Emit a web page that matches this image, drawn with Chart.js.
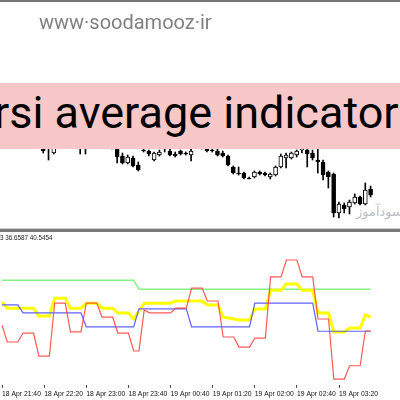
<!DOCTYPE html>
<html>
<head>
<meta charset="utf-8">
<script src="https://cdn.jsdelivr.net/npm/chart.js@4.4.1/dist/chart.umd.min.js"></script>
<style>
  html, body { margin: 0; padding: 0; background: #fff; }
  #page { position: relative; width: 400px; height: 400px; overflow: hidden; background: #fff; }
  #page canvas { position: absolute; left: 0; }
  .topline { position: absolute; left: 0; top: 0; width: 400px; height: 2px; background: #777; }
  .site { position: absolute; left: 39px; top: 12px; font: 20px Roboto, sans-serif; line-height: 20px; color: #808080; white-space: nowrap; }
  .banner { position: absolute; left: 0; top: 83px; width: 400px; height: 66px; background: #f8c8c9; }
  .banner span { position: absolute; left: -6px; top: 7px; font: 45px Roboto, sans-serif; line-height: 45px; color: #000; white-space: nowrap; }
  .fa { position: absolute; left: 356px; top: 204px; font: 13px "DejaVu Sans", sans-serif; color: #b8bdc6; white-space: nowrap; }
  .sep1 { position: absolute; left: 0; top: 228px; width: 400px; height: 1px; background: #d0d0d0; }
  .sep2 { position: absolute; left: 0; top: 229px; width: 400px; height: 3px; background: #7a7a7a; }
  .ind { position: absolute; left: 0; top: 234px; font: 6.3px "Liberation Sans", sans-serif; line-height: 8px; color: #222; white-space: nowrap; }
</style>
</head>
<body>
<div id="page">
  <canvas id="priceChart" width="400" height="229" style="top:0"></canvas>
  <canvas id="rsiChart" width="400" height="167" style="top:233px"></canvas>
  <div class="topline"></div>
  <div class="site">www·soodamooz·ir</div>
  <div class="banner"><span>rsi average indicator</span></div>
  <div class="fa">سودآموز</div>
  <div class="sep1"></div>
  <div class="sep2"></div>
  <div class="ind">3 36.6587 40.5454</div>
</div>
<script>
// M5 bars, 18 Apr 21:40 is bar 0
const tickIdx = [0, 8, 16, 24, 32, 40, 48, 56, 64];
const tickLabels = ['18 Apr 21:40', '18 Apr 22:20', '18 Apr 23:00', '18 Apr 23:40', '19 Apr 00:40',
  '19 Apr 01:20', '19 Apr 02:00', '19 Apr 02:40', '19 Apr 03:20'];

// candles (most of the early ones sit behind the banner)
const opens = [1.1870, 1.1874, 1.1868, 1.1872, 1.1866, 1.1864, 1.1869, 1.1862, 1.1854, 1.1855,
  1.1847, 1.1857, 1.1862, 1.1867, 1.1863, 1.1860, 1.1856, 1.1859, 1.1862, 1.1860,
  1.1864, 1.1861, 1.1854, 1.1844, 1.1837, 1.1842, 1.1835, 1.1850, 1.1849, 1.1840,
  1.1845, 1.1854, 1.1849, 1.1846, 1.1849, 1.1847, 1.1845, 1.1853, 1.1858, 1.1852,
  1.1850, 1.1849, 1.1847, 1.1844, 1.1833, 1.1827, 1.1827, 1.1822, 1.1823, 1.1828,
  1.1827, 1.1823, 1.1825, 1.1833, 1.1842, 1.1842, 1.1845, 1.1850, 1.1850, 1.1847,
  1.1840, 1.1838, 1.1828, 1.1826, 1.1787, 1.1795, 1.1793, 1.1797, 1.1803, 1.1796, 1.1811];
const highs = [1.1878, 1.1876, 1.1874, 1.1875, 1.1870, 1.1872, 1.1871, 1.1867, 1.1858, 1.1860,
  1.1862, 1.1866, 1.1872, 1.1870, 1.1867, 1.1864, 1.1863, 1.1866, 1.1867, 1.1868,
  1.1869, 1.1865, 1.1858, 1.1847, 1.1845, 1.1844, 1.1838, 1.1851, 1.1850, 1.1848,
  1.1850, 1.1860, 1.1851, 1.1848, 1.1850, 1.1848, 1.1852, 1.1862, 1.1862, 1.1854,
  1.1851, 1.1851, 1.1849, 1.1845, 1.1834, 1.1833, 1.1828, 1.1823, 1.1829, 1.1829,
  1.1828, 1.1827, 1.1834, 1.1846, 1.1847, 1.1848, 1.1850, 1.1852, 1.1853, 1.1850,
  1.1852, 1.1840, 1.1829, 1.1827, 1.1798, 1.1797, 1.1800, 1.1806, 1.1804, 1.1817, 1.1814];
const lows = [1.1866, 1.1864, 1.1862, 1.1860, 1.1858, 1.1860, 1.1856, 1.1854, 1.1847, 1.1840,
  1.1846, 1.1854, 1.1858, 1.1859, 1.1855, 1.1846, 1.1846, 1.1854, 1.1854, 1.1855,
  1.1856, 1.1851, 1.1837, 1.1836, 1.1836, 1.1833, 1.1829, 1.1848, 1.1844, 1.1839,
  1.1844, 1.1848, 1.1844, 1.1843, 1.1845, 1.1845, 1.1839, 1.1852, 1.1851, 1.1848,
  1.1848, 1.1844, 1.1843, 1.1834, 1.1826, 1.1825, 1.1821, 1.1821, 1.1822, 1.1825,
  1.1824, 1.1821, 1.1824, 1.1832, 1.1832, 1.1841, 1.1843, 1.1847, 1.1833, 1.1840,
  1.1827, 1.1820, 1.1812, 1.1783, 1.1782, 1.1787, 1.1786, 1.1796, 1.1795, 1.1795, 1.1803];
const closes = [1.1875, 1.1868, 1.1872, 1.1866, 1.1864, 1.1869, 1.1862, 1.1860, 1.1849, 1.1853,
  1.1857, 1.1862, 1.1867, 1.1863, 1.1860, 1.1856, 1.1859, 1.1862, 1.1860, 1.1864,
  1.1861, 1.1854, 1.1843, 1.1837, 1.1843, 1.1834, 1.1830, 1.1849, 1.1846, 1.1847,
  1.1848, 1.1857, 1.1845, 1.1844, 1.1846, 1.1846, 1.1849, 1.1858, 1.1855, 1.1849,
  1.1849, 1.1845, 1.1844, 1.1835, 1.1827, 1.1826, 1.1822, 1.1821, 1.1828, 1.1826,
  1.1825, 1.1826, 1.1833, 1.1844, 1.1845, 1.1847, 1.1849, 1.1851, 1.1846, 1.1842,
  1.1838, 1.1825, 1.1823, 1.1787, 1.1796, 1.1791, 1.1798, 1.1803, 1.1796, 1.1810, 1.1805];

// indicator buffers
const redLine = [38.3, 33.6, 33.6, 33.6, 36.1, 36.1, 36.1, 29.7, 29.7, 29.7,
  44.4, 44.4, 44.4, 36.4, 36.4, 36.4, 44.4, 44.4, 44.4, 40.5,
  40.5, 40.5, 36.1, 36.1, 36.1, 31.1, 31.1, 42.5, 41.7, 41.7,
  41.7, 41.7, 41.7, 43.0, 43.0, 43.0, 48.6, 48.6, 48.6, 45.0,
  45.0, 45.0, 35.0, 35.0, 35.0, 32.2, 32.2, 32.2, 34.7, 34.7,
  34.7, 51.7, 51.7, 51.7, 56.4, 56.4, 56.4, 51.7, 51.7, 51.7,
  40.0, 40.0, 40.0, 23.3, 23.3, 23.3, 27.0, 27.0, 27.0, 36.66, 36.66];
const yellowLine = [44.7, 43.0, 43.0, 43.0, 43.0, 43.0, 43.0, 40.8, 40.8, 40.8,
  45.8, 45.8, 45.8, 43.0, 43.0, 43.0, 44.4, 44.4, 44.4, 43.0,
  43.0, 43.0, 41.7, 41.7, 41.7, 40.0, 42.2, 44.4, 44.4, 44.4,
  44.4, 44.4, 44.4, 45.0, 45.0, 45.0, 45.0, 45.0, 45.0, 43.9,
  43.9, 43.9, 40.5, 40.3, 40.0, 39.7, 39.7, 39.7, 42.8, 42.8,
  42.8, 48.0, 48.0, 48.0, 49.7, 49.7, 49.7, 48.0, 48.0, 48.0,
  41.7, 41.7, 41.7, 36.4, 36.4, 36.4, 37.5, 37.5, 37.5, 41.1, 40.55];
const blueLine = [43.9, 43.9, 43.9, 43.9, 41.7, 41.7, 41.7, 41.7, 41.7, 41.7,
  41.7, 41.7, 41.7, 41.7, 41.7, 41.7, 37.8, 37.8, 37.8, 37.8,
  37.8, 37.8, 37.8, 37.8, 37.8, 37.8, 42.8, 42.8, 42.8, 42.8,
  42.8, 42.8, 42.8, 42.8, 42.8, 42.8, 37.8, 37.8, 37.8, 37.8,
  37.8, 37.8, 37.8, 37.8, 37.8, 37.8, 37.8, 37.8, 44.4, 44.4,
  44.4, 44.4, 44.4, 44.4, 44.4, 44.4, 44.4, 44.4, 44.4, 44.4,
  36.6, 36.6, 36.6, 36.6, 36.6, 36.6, 36.6, 36.6, 36.6, 36.6, 36.6];
const greenLine = [50.8, 50.8, 50.8, 50.8, 50.8, 50.8, 50.8, 50.8, 50.8, 50.8,
  50.8, 50.8, 50.8, 50.8, 50.8, 50.8, 50.8, 50.8, 50.8, 50.8,
  50.8, 50.8, 50.8, 50.8, 50.8, 50.8, 48.3, 48.3, 48.3, 48.3,
  48.3, 48.3, 48.3, 48.3, 48.3, 48.3, 48.3, 48.3, 48.3, 48.3,
  48.3, 48.3, 48.3, 48.3, 48.3, 48.3, 48.3, 48.3, 48.3, 48.3,
  48.3, 48.3, 48.3, 48.3, 48.3, 48.3, 48.3, 48.3, 48.3, 48.3,
  48.3, 48.3, 48.3, 48.3, 48.3, 48.3, 48.3, 48.3, 48.3, 48.3, 48.3];

// same bar spacing on both panels
const xMin = -0.19, xMax = 75.57;

const pts = arr => arr.map((v, i) => ({ x: i, y: v }));

function drawPriceChart() {
  const canvas = document.getElementById('priceChart');
  const bodies = opens.map((o, i) => ({ x: i, y: [o, closes[i]] }));
  const wicks = lows.map((l, i) => ({ x: i, y: [l, highs[i]] }));
  const fills = opens.map((o, i) => closes[i] > o ? '#ffffff' : '#000000');

  new Chart(canvas, {
    type: 'bar',
    data: {
      datasets: [
        { data: bodies, backgroundColor: fills, borderColor: '#000', borderWidth: 1,
          borderSkipped: false, barThickness: 4, grouped: false, order: 1 },
        { data: wicks, backgroundColor: '#000', borderWidth: 0,
          barThickness: 1, grouped: false, order: 2 }
      ]
    },
    options: {
      responsive: false,
      animation: false,
      layout: { padding: 0 },
      plugins: { legend: { display: false }, tooltip: { enabled: false } },
      scales: {
        x: { type: 'linear', min: xMin, max: xMax, offset: false, display: false },
        y: { min: 1.1771, max: 1.2000, display: false }
      }
    }
  });
}

function drawRsiChart() {
  const canvas = document.getElementById('rsiChart');
  const line = (data, color, width, order) => ({
    data: pts(data), borderColor: color, borderWidth: width, pointRadius: 0,
    tension: 0, fill: false, order
  });

  new Chart(canvas, {
    type: 'line',
    data: {
      datasets: [
        line(redLine, 'rgba(255,60,60,0.85)', 1.2, 1),
        line(blueLine, 'rgba(80,80,255,0.9)', 1.2, 2),
        line(yellowLine, '#ffff00', 3, 3),
        line(greenLine, '#86ef86', 1.5, 4)
      ]
    },
    options: {
      responsive: false,
      animation: false,
      layout: { padding: 0 },
      plugins: { legend: { display: false }, tooltip: { enabled: false } },
      scales: {
        x: {
          type: 'linear', min: xMin, max: xMax, offset: false,
          afterBuildTicks: s => { s.ticks = tickIdx.map(v => ({ value: v })); },
          ticks: {
            autoSkip: false, maxRotation: 0, align: 'start', padding: 2,
            color: '#111', font: { family: 'Liberation Sans', size: 6.8 },
            callback: v => tickLabels[tickIdx.indexOf(v)]
          },
          grid: { drawOnChartArea: false, drawTicks: true, tickLength: 3, color: '#444' },
          border: { display: false }
        },
        y: { min: 21.7, max: 63.9, display: false }
      }
    }
  });
}

drawPriceChart();
drawRsiChart();
</script>
</body>
</html>
